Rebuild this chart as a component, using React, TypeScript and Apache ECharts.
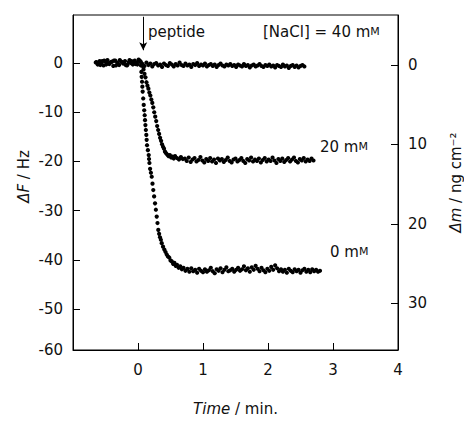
import React, { useEffect, useRef } from "react";
import * as echarts from "echarts";

// [time (min), ΔF (Hz)]
const nacl40: number[][] = [
  [-0.65, 0.1], [-0.62, -0.3], [-0.59, 0.4], [-0.56, 0.0], [-0.53, -0.5], [-0.5, 0.3], [-0.47, 0.6], [-0.44, -0.2],
  [-0.41, 0.2], [-0.38, -0.6], [-0.35, 0.5], [-0.32, 0.1], [-0.29, -0.4], [-0.26, 0.3], [-0.23, -0.1], [-0.2, 0.4],
  [-0.17, -0.5], [-0.14, 0.2], [-0.11, 0.0], [-0.08, -0.3], [-0.05, 0.5], [-0.02, 0.1], [0.01, 0.7], [0.04, 0.3],
  [0.07, -0.2], [0.1, -0.6], [0.13, 0.1], [0.16, -0.4], [0.19, -0.1], [0.22, -0.7], [0.25, -0.2], [0.28, 0.0],
  [0.31, -0.5], [0.34, -0.3], [0.37, -0.8], [0.4, -0.1], [0.43, -0.4], [0.46, -0.6], [0.49, 0.0], [0.52, -0.3],
  [0.55, -0.7], [0.58, -0.2], [0.61, -0.5], [0.64, 0.1], [0.67, -0.4], [0.7, -0.6], [0.73, -0.1], [0.76, -0.5],
  [0.79, -0.3], [0.82, -0.8], [0.85, -0.2], [0.88, -0.4], [0.91, 0.0], [0.94, -0.6], [0.97, -0.3], [1.0, -0.5],
  [1.03, -0.1], [1.06, -0.7], [1.09, -0.4], [1.12, -0.2], [1.15, -0.6], [1.18, -0.3], [1.21, -0.8], [1.24, -0.4],
  [1.27, -0.1], [1.3, -0.5], [1.33, -0.7], [1.36, -0.3], [1.39, -0.5], [1.42, -0.2], [1.45, -0.6], [1.48, -0.4],
  [1.51, -0.8], [1.54, -0.3], [1.57, -0.5], [1.6, -0.7], [1.63, -0.2], [1.66, -0.6], [1.69, -0.4], [1.72, -0.9],
  [1.75, -0.5], [1.78, -0.3], [1.81, -0.7], [1.84, -0.5], [1.87, -0.2], [1.9, -0.6], [1.93, -0.8], [1.96, -0.4],
  [1.99, -0.6], [2.02, -0.3], [2.05, -0.7], [2.08, -0.5], [2.11, -0.9], [2.14, -0.4], [2.17, -0.6], [2.2, -0.8],
  [2.23, -0.3], [2.26, -0.7], [2.29, -0.5], [2.32, -1.0], [2.35, -0.6], [2.38, -0.4], [2.41, -0.8], [2.44, -0.5],
  [2.47, -0.9], [2.5, -0.6], [2.53, -0.4], [2.56, -0.7],
];

const nacl20: number[][] = [
  [-0.64, 0.2], [-0.58, -0.4], [-0.52, 0.5], [-0.46, -0.1], [-0.4, 0.3], [-0.34, -0.5], [-0.28, 0.6], [-0.22, 0.0],
  [-0.16, -0.3], [-0.1, 0.4], [-0.04, -0.2], [0.02, 0.5], [0.05, 0.0],
  [0.07, -0.6], [0.085, -1.3], [0.1, -2.2], [0.115, -2.9], [0.13, -3.9], [0.145, -4.6], [0.16, -5.2], [0.175, -6.0],
  [0.19, -6.6], [0.205, -7.4], [0.22, -8.1], [0.235, -9.0], [0.25, -10.0], [0.265, -10.9], [0.28, -11.8], [0.295, -12.8],
  [0.31, -13.6], [0.325, -14.4], [0.34, -15.2], [0.355, -15.8], [0.37, -16.5], [0.385, -17.0], [0.4, -17.4], [0.415, -18.0],
  [0.43, -18.3], [0.45, -18.6], [0.47, -18.9], [0.49, -18.7], [0.51, -19.2], [0.53, -19.0], [0.55, -19.4], [0.57, -18.9],
  [0.6, -19.3], [0.63, -19.6], [0.66, -19.1], [0.69, -19.5],
  [0.72, -19.4], [0.75, -19.9], [0.78, -19.2], [0.81, -20.1], [0.84, -19.6], [0.87, -19.3], [0.9, -20.0], [0.93, -19.7],
  [0.96, -19.1], [0.99, -19.8], [1.02, -20.2], [1.05, -19.5], [1.08, -19.9], [1.11, -19.3], [1.14, -20.0], [1.17, -19.6],
  [1.2, -20.3], [1.23, -19.4], [1.26, -19.8], [1.29, -19.5], [1.32, -20.1], [1.35, -19.7], [1.38, -19.2], [1.41, -19.9],
  [1.44, -20.2], [1.47, -19.6], [1.5, -19.4], [1.53, -20.0], [1.56, -19.7], [1.59, -19.3], [1.62, -19.9], [1.65, -20.3],
  [1.68, -19.5], [1.71, -19.8], [1.74, -19.2], [1.77, -20.0], [1.8, -19.6], [1.83, -19.9], [1.86, -19.4], [1.89, -20.2],
  [1.92, -19.7], [1.95, -19.3], [1.98, -20.0], [2.01, -19.6], [2.04, -19.9], [2.07, -19.2], [2.1, -19.8], [2.13, -20.3],
  [2.16, -19.5], [2.19, -19.9], [2.22, -19.4], [2.25, -20.1], [2.28, -19.7], [2.31, -19.3], [2.34, -20.0], [2.37, -19.6],
  [2.4, -19.2], [2.43, -19.9], [2.46, -20.2], [2.49, -19.5], [2.52, -19.8], [2.55, -19.3], [2.58, -20.0], [2.61, -19.6],
  [2.64, -19.9], [2.67, -19.4], [2.7, -19.8],
];

const nacl0: number[][] = [
  [-0.61, -0.2], [-0.55, 0.4], [-0.49, -0.3], [-0.43, 0.1], [-0.37, 0.5], [-0.31, -0.2], [-0.25, 0.2], [-0.19, -0.4],
  [-0.13, 0.6], [-0.07, 0.1], [-0.01, -0.3], [0.03, 0.4], [0.045, -0.5],
  [0.052, -1.8], [0.056, -2.8], [0.062, -3.8], [0.067, -4.8], [0.072, -5.8], [0.08, -7.2], [0.088, -8.5], [0.096, -9.6],
  [0.103, -10.6], [0.108, -11.6], [0.114, -12.6], [0.121, -13.6], [0.128, -14.6], [0.133, -15.6], [0.139, -16.7], [0.152, -17.7],
  [0.165, -18.7], [0.17, -19.5], [0.176, -20.3], [0.186, -21.5], [0.199, -22.3], [0.211, -23.1], [0.223, -24.5], [0.235, -25.8],
  [0.248, -27.1], [0.262, -28.5], [0.275, -29.8], [0.288, -31.2], [0.3, -32.5], [0.312, -33.9], [0.325, -34.7], [0.338, -35.4],
  [0.352, -35.9], [0.365, -36.6], [0.385, -37.3], [0.405, -37.9], [0.424, -38.4], [0.442, -38.9], [0.46, -39.3], [0.48, -39.5],
  [0.5, -40.1], [0.52, -40.3], [0.54, -40.8], [0.56, -40.6], [0.58, -41.2], [0.6, -41.0], [0.625, -41.6], [0.65, -41.3],
  [0.675, -41.9], [0.7, -41.6], [0.73, -42.2], [0.76, -41.8], [0.79, -42.4],
  [0.82, -41.7], [0.85, -42.3], [0.88, -42.0], [0.91, -42.6], [0.94, -41.8], [0.97, -42.2], [1.0, -42.5], [1.03, -41.9],
  [1.06, -42.4], [1.09, -42.1], [1.12, -41.6], [1.15, -42.3], [1.18, -42.7], [1.21, -41.9], [1.24, -42.2], [1.27, -41.7],
  [1.3, -42.5], [1.33, -42.0], [1.36, -41.5], [1.39, -42.3], [1.42, -42.1], [1.45, -41.8], [1.48, -42.4], [1.51, -42.0],
  [1.54, -41.6], [1.57, -42.2], [1.6, -41.9], [1.63, -41.3], [1.66, -42.1], [1.69, -41.7], [1.72, -42.4], [1.75, -41.5],
  [1.78, -42.0], [1.81, -41.2], [1.84, -41.8], [1.87, -42.3], [1.9, -41.6], [1.93, -42.1], [1.96, -42.5], [1.99, -41.8],
  [2.02, -42.2], [2.05, -41.4], [2.08, -42.0], [2.11, -41.1], [2.14, -41.7], [2.17, -42.3], [2.2, -41.9], [2.23, -42.4],
  [2.26, -42.0], [2.29, -42.6], [2.32, -41.8], [2.35, -42.2], [2.38, -42.5], [2.41, -41.9], [2.44, -42.3], [2.47, -42.0],
  [2.5, -42.6], [2.53, -42.1], [2.56, -41.8], [2.59, -42.4], [2.62, -42.0], [2.65, -42.5], [2.68, -41.9], [2.71, -42.3],
  [2.74, -42.0], [2.77, -42.4], [2.8, -42.2],
];

const xTicks = [0, 1, 2, 3];
const xLabels = [0, 1, 2, 3, 4];
const yLeftTicks = [0, -10, -20, -30, -40, -50];
const yLeftMin = -58.3;
const yLeftMax = 9.76;
const yLeftLabels = [0, -10, -20, -30, -40, -50, yLeftMin];
const yRightTicks = [0, 10, 20, 30];
const yRightMin = -6.3;
const yRightMax = 35.9;
const peptideTime = 0.08;
const arrowFrom = 9.4;
const arrowTo = 2.6;

const FONT = "DejaVu Sans";
const INK = "#000";

export default function App() {
  const ref = useRef<HTMLDivElement>(null);
  useEffect(() => {
    if (!ref.current) return;
    const chart = echarts.init(ref.current, undefined, { renderer: "svg" });
    const dot = { color: INK, opacity: 1 };
    const labelStyle = { fontFamily: FONT, fontSize: 15, color: "#111" };
    const italic = { fontFamily: FONT, fontSize: 15, fontStyle: "italic", color: "#111" };
    const symSize = 4.2;
    chart.setOption({
      animation: false,
      grid: {
        left: 73,
        right: 66,
        top: 15,
        bottom: 73,
        show: true,
        borderColor: "#000",
        borderWidth: 1,
        backgroundColor: "transparent",
        outerBoundsMode: "none",
      },
      xAxis: {
        type: "value",
        min: -1,
        max: 4,
        splitLine: { show: false },
        axisLine: { show: true, onZero: false, lineStyle: { color: "#000", width: 1 } },
        axisTick: { inside: true, length: 7, customValues: xTicks, lineStyle: { color: "#000" } },
        axisLabel: { ...labelStyle, margin: 12, customValues: xLabels },
        name: "{i|Time} / min.",
        nameLocation: "middle",
        nameGap: 51,
        nameMoveOverlap: false,
        nameTextStyle: { ...labelStyle, rich: { i: italic } },
      },
      yAxis: [
        {
          type: "value",
          position: "left",
          min: yLeftMin,
          max: yLeftMax,
          splitLine: { show: false },
          axisLine: { show: true, onZero: false, lineStyle: { color: "#000", width: 1 } },
          axisTick: { inside: true, length: 7, customValues: yLeftTicks, lineStyle: { color: "#000" } },
          axisLabel: {
            ...labelStyle,
            margin: 10,
            customValues: yLeftLabels,
            formatter: (v: number) => String(Math.round(v / 10) * 10),
          },
          name: "{i|ΔF} / Hz",
          nameLocation: "middle",
          nameGap: 42,
          nameRotate: 90,
          nameMoveOverlap: false,
          nameTextStyle: { ...labelStyle, padding: [0, 0, 0, 12], rich: { i: italic } },
        },
        {
          type: "value",
          position: "right",
          inverse: true,
          min: yRightMin,
          max: yRightMax,
          splitLine: { show: false },
          axisLine: { show: true, onZero: false, lineStyle: { color: "#000", width: 1 } },
          axisTick: { inside: true, length: 7, customValues: yRightTicks, lineStyle: { color: "#000" } },
          axisLabel: { ...labelStyle, margin: 10, customValues: yRightTicks },
          name: "{i|Δm} / ng cm⁻²",
          nameLocation: "middle",
          nameGap: 50,
          nameRotate: 90,
          nameMoveOverlap: false,
          nameTextStyle: { ...labelStyle, rich: { i: italic } },
        },
      ],
      series: [
        {
          type: "scatter",
          name: "40 mM",
          data: nacl40,
          symbolSize: symSize,
          itemStyle: dot,
          silent: true,
          markLine: {
            silent: true,
            symbol: ["none", "arrow"],
            symbolSize: [6, 8],
            label: { show: false },
            lineStyle: { color: "#000", width: 1, type: "solid" },
            data: [[{ coord: [peptideTime, arrowFrom] }, { coord: [peptideTime, arrowTo] }]],
          },
        },
        { type: "scatter", name: "20 mM", data: nacl20, symbolSize: symSize, itemStyle: dot, silent: true },
        { type: "scatter", name: "0 mM", data: nacl0, symbolSize: symSize, itemStyle: dot, silent: true },
      ],
      graphic: [
        {
          type: "text",
          left: 148,
          top: 24,
          style: { text: "peptide", font: `15px "${FONT}"`, fill: "#111" },
        },
        {
          type: "text",
          left: 263,
          top: 24,
          style: {
            text: "[NaCl] = 40 m{s|M}",
            font: `15px "${FONT}"`,
            fill: "#111",
            rich: { s: { fontFamily: FONT, fontSize: 11, fill: "#111" } },
          },
        },
        {
          type: "text",
          left: 320,
          top: 139,
          style: {
            text: "20 m{s|M}",
            font: `15px "${FONT}"`,
            fill: "#111",
            rich: { s: { fontFamily: FONT, fontSize: 11, fill: "#111" } },
          },
        },
        {
          type: "text",
          left: 330,
          top: 244,
          style: {
            text: "0 m{s|M}",
            font: `15px "${FONT}"`,
            fill: "#111",
            rich: { s: { fontFamily: FONT, fontSize: 11, fill: "#111" } },
          },
        },
      ],
    });
    return () => chart.dispose();
  }, []);
  return (
    <div
      ref={ref}
      style={{ position: "fixed", left: 0, top: 0, width: 464, height: 423, background: "#fff" }}
    />
  );
}
